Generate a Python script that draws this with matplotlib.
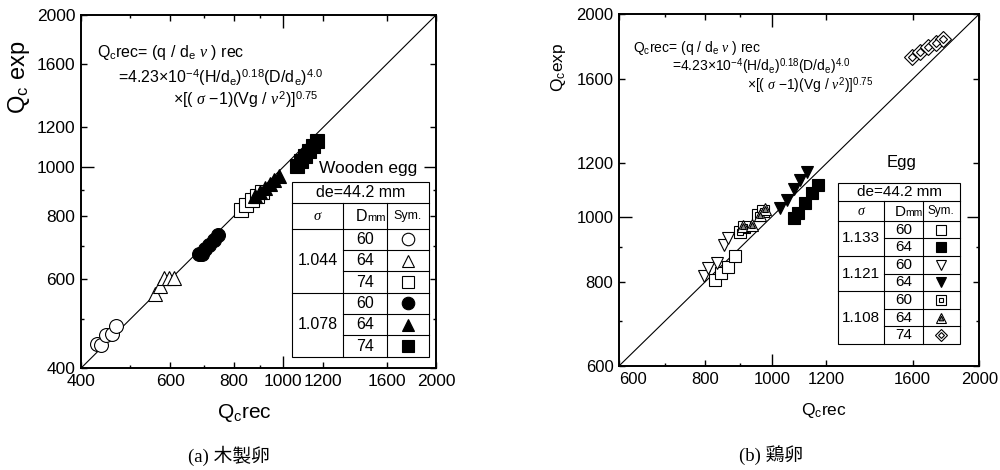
import matplotlib
matplotlib.use("Agg")
import matplotlib.pyplot as plt
from matplotlib.lines import Line2D
from matplotlib.patches import Rectangle
from matplotlib.transforms import Affine2D
from matplotlib.ticker import NullFormatter

plt.rcParams['font.family'] = ['Liberation Sans', 'DejaVu Sans']
plt.rcParams['mathtext.fontset'] = 'custom'
plt.rcParams['mathtext.rm'] = 'Liberation Sans'
plt.rcParams['mathtext.it'] = 'Liberation Serif:italic'
plt.rcParams['mathtext.bf'] = 'Liberation Sans:bold'

# ---- data: (a) wooden egg ----
wood_c60_x = [430, 439, 449, 460, 469]
wood_c60_y = [447, 445, 466, 468, 485]
wood_t64_x = [560, 572, 583, 596, 610]
wood_t64_y = [562, 582, 603, 605, 603]
wood_s74_x = [826, 846, 869, 889, 909]
wood_s74_y = [823, 842, 862, 877, 893]
wood_fc60_x = [684, 692, 703, 716, 730, 746]
wood_fc60_y = [675, 675, 688, 702, 718, 736]
wood_ft64_x = [880, 900, 920, 942, 962, 982]
wood_ft64_y = [877, 893, 908, 925, 942, 960]
wood_fs74_x = [1064, 1083, 1103, 1124, 1145, 1166]
wood_fs74_y = [1005, 1028, 1052, 1076, 1101, 1127]

# ---- data: (b) egg ----
egg_s60_x = [827, 844, 865, 885]
egg_s60_y = [805, 824, 843, 874]
egg_fs64_x = [1075, 1093, 1118, 1143, 1165]
egg_fs64_y = [994, 1012, 1047, 1084, 1114]
egg_v60_x = [796, 809, 832, 851, 865]
egg_v60_y = [816, 838, 853, 908, 929]
egg_fv64_x = [1028, 1051, 1075, 1099, 1124]
egg_fv64_y = [1029, 1059, 1098, 1134, 1166]
egg_ds60_x = [900, 910, 956, 972]
egg_ds60_y = [950, 966, 1006, 1018]
egg_dt64_x = [908, 935, 962, 978]
egg_dt64_y = [969, 972, 1006, 1027]
egg_dd74_x = [1597, 1640, 1685, 1731, 1772]
egg_dd74_y = [1727, 1756, 1787, 1812, 1836]

ticks_a = [400, 600, 800, 1000, 1200, 1600, 2000]
minor_a = [500, 700, 900]
ticks_b = [600, 800, 1000, 1200, 1600, 2000]
minor_b = [700, 900]

W, H = 1000, 470
fig = plt.figure(figsize=(10, 4.7), dpi=100)
PX = Affine2D().scale(1 / W, -1 / H).translate(0, 1) + fig.transFigure

ax1 = fig.add_axes([0.0807, 0.216, 0.3553, 0.752])
ax2 = fig.add_axes([0.619, 0.2213, 0.3603, 0.749])

STY = {
    'oc': [dict(marker='o', mfc='white')],
    'fc': [dict(marker='o', mfc='black')],
    'ot': [dict(marker='^', mfc='white')],
    'ft': [dict(marker='^', mfc='black')],
    'os': [dict(marker='s', mfc='white')],
    'fs': [dict(marker='s', mfc='black')],
    'ov': [dict(marker='v', mfc='white')],
    'fv': [dict(marker='v', mfc='black')],
    'ds': [dict(marker='s', mfc='white'), dict(marker='s', mfc='white', scale=0.45)],
    'dt': [dict(marker='^', mfc='white'), dict(marker='^', mfc='#888888', scale=0.45)],
    'dd': [dict(marker='D', mfc='white', scale=0.85), dict(marker='D', mfc='white', scale=0.4)],
}


def marks(x, y, kind, ms, ax=None):
    for st in STY[kind]:
        st = dict(st)
        size = ms * st.pop('scale', 1.0)
        kw = dict(ls='none', mec='black', mew=0.8, ms=size, **st)
        if ax is not None:
            ax.plot(x, y, clip_on=False, **kw)
        else:
            fig.add_artist(Line2D([x], [y], transform=PX, **kw))


def setup(ax, lo, ticks, minor, size):
    ax.set_xscale('log')
    ax.set_yscale('log')
    ax.set_xlim(lo, 2000)
    ax.set_ylim(lo, 2000)
    ax.set_xticks(ticks, [str(t) for t in ticks])
    ax.set_yticks(ticks, [str(t) for t in ticks])
    ax.set_xticks(minor, minor=True)
    ax.set_yticks(minor, minor=True)
    ax.xaxis.set_minor_formatter(NullFormatter())
    ax.yaxis.set_minor_formatter(NullFormatter())
    ax.tick_params(which='both', direction='in', top=True, right=True, width=1)
    ax.tick_params(which='major', length=4.5, labelsize=size, pad=4)
    ax.tick_params(which='minor', length=2.2)
    for sp in ax.spines.values():
        sp.set_linewidth(1.4)
    i = ticks.index(1000)
    for axis in (ax.xaxis, ax.yaxis):
        t = axis.get_major_ticks()[i]
        t.tick1line.set_markersize(9)
        t.tick2line.set_markersize(9)
    ax.plot([lo, 2000], [lo, 2000], color='black', lw=0.8)


setup(ax1, 400, ticks_a, minor_a, 12.5)
setup(ax2, 600, ticks_b, minor_b, 12)
ax2.get_xticklabels()[0].set_horizontalalignment('left')

ms1 = 10
marks(wood_c60_x, wood_c60_y, 'oc', ms1, ax1)
marks(wood_t64_x, wood_t64_y, 'ot', ms1, ax1)
marks(wood_s74_x, wood_s74_y, 'os', ms1, ax1)
marks(wood_fc60_x, wood_fc60_y, 'fc', ms1, ax1)
marks(wood_ft64_x, wood_ft64_y, 'ft', ms1, ax1)
marks(wood_fs74_x, wood_fs74_y, 'fs', ms1, ax1)

ms2 = 8.5
marks(egg_s60_x, egg_s60_y, 'os', ms2, ax2)
marks(egg_v60_x, egg_v60_y, 'ov', ms2, ax2)
marks(egg_ds60_x, egg_ds60_y, 'ds', ms2, ax2)
marks(egg_dt64_x, egg_dt64_y, 'dt', ms2, ax2)
marks(egg_fv64_x, egg_fv64_y, 'fv', ms2, ax2)
marks(egg_fs64_x, egg_fs64_y, 'fs', ms2, ax2)
marks(egg_dd74_x, egg_dd74_y, 'dd', ms2 + 1.5, ax2)


def ptext(x, y, s, size, **kw):
    kw.setdefault('ha', 'center')
    kw.setdefault('va', 'center')
    fig.text(x, y, s, transform=PX, fontsize=size, **kw)


def pline(xs, ys):
    fig.add_artist(Line2D(xs, ys, transform=PX, color='black', lw=0.8))


# axis labels
ptext(19, 77, r'$\mathregular{Q_c}$ exp', 17, rotation=90)
ptext(244, 413, r'$\mathregular{Q_c}$rec', 15)
ptext(558, 67, r'$\mathregular{Q_c}$exp', 12.5, rotation=90)
ptext(824, 410, r'$\mathregular{Q_c}$rec', 12.5)

# formula
f1 = r'$\mathregular{Q_c}$rec= (q / $\mathregular{d_e}$ $\nu$ ) rec'
f2 = (r'=4.23×10$^{\mathregular{-4}}$(H/$\mathregular{d_e}$)$^{\mathregular{0.18}}$'
      r'(D/$\mathregular{d_e}$)$^{\mathregular{4.0}}$')
f3 = r'×[( $\sigma$ −1)(Vg / $\nu^{\mathregular{2}}$)]$^{\mathregular{0.75}}$'
ptext(97, 52, f1, 11.5, ha='left')
ptext(118, 78, f2, 11.5, ha='left')
ptext(173, 100, f3, 11.5, ha='left')
ptext(633, 48, f1, 10, ha='left')
ptext(672, 67, f2, 10, ha='left')
ptext(747, 86, f3, 10, ha='left')

# captions
cap = ['Liberation Serif', 'Noto Sans CJK JP']
ptext(229, 456, '(a) 木製卵', 13.5, family=cap)
ptext(771, 455, '(b) 鶏卵', 13.5, family=cap)


def table(xc, ys, head_y, groups, fs, ms, title, title_xy, title_ha):
    x0, x1, x2, x3 = xc
    y0, y1, y2 = head_y
    fig.add_artist(Rectangle((x0, y0), x3 - x0, ys[-1] - y0, transform=PX,
                             facecolor='white', edgecolor='black', lw=0.8))
    pline([x0, x3], [y1, y1])
    pline([x0, x3], [y2, y2])
    pline([x1, x1], [y1, ys[-1]])
    pline([x2, x2], [y1, ys[-1]])
    ptext(title_xy[0], title_xy[1], title, fs + 1, ha=title_ha)
    ptext((x0 + x3) / 2, (y0 + y1) / 2, 'de=44.2 mm', fs)
    hy = (y1 + y2) / 2
    ptext((x0 + x1) / 2, hy, r'$\sigma$', fs - 1)
    xm = (x1 + x2) / 2 + 2
    ptext(xm, hy + 5, 'D', fs, ha='right', va='baseline')
    ptext(xm, hy + 5, 'mm', fs - 3.5, ha='left', va='baseline')
    ptext((x2 + x3) / 2, hy, 'Sym.', fs - 2.5)
    r = 0
    for sig, rows in groups:
        top = ys[r]
        for k, (d, kind) in enumerate(rows):
            a, b = ys[r], ys[r + 1]
            ptext((x1 + x2) / 2, (a + b) / 2, d, fs)
            marks((x2 + x3) / 2, (a + b) / 2, kind, ms)
            if k < len(rows) - 1:
                pline([x1, x3], [b, b])
            r += 1
        ptext((x0 + x1) / 2, (top + ys[r]) / 2, sig, fs)
        if r < len(ys) - 1:
            pline([x0, x3], [ys[r], ys[r]])


rows_a = [228.7 + i * 21.33 for i in range(7)]
table((292.3, 343.3, 386.7, 429), rows_a, (181.7, 202.7, 228.7),
      [('1.044', [('60', 'oc'), ('64', 'ot'), ('74', 'os')]),
       ('1.078', [('60', 'fc'), ('64', 'ft'), ('74', 'fs')])],
      11.5, 9, 'Wooden egg', (319, 168), 'left')

rows_b = [220.7 + i * 17.61 for i in range(8)]
table((838.3, 884, 922.7, 960), rows_b, (182.7, 201, 220.7),
      [('1.133', [('60', 'os'), ('64', 'fs')]),
       ('1.121', [('60', 'ov'), ('64', 'fv')]),
       ('1.108', [('60', 'ds'), ('64', 'dt'), ('74', 'dd')])],
      11, 7.5, 'Egg', (901.7, 162), 'center')

fig.savefig('out.png', dpi=100)
